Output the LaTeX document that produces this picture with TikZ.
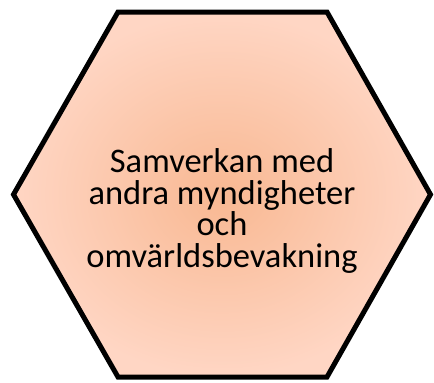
\documentclass[tikz,border=0pt]{standalone}
\usepackage{fontspec}
\setmainfont{Carlito}
\usepackage{xcolor}
\definecolor{hexinner}{RGB}{248, 184, 146}
\definecolor{hexouter}{RGB}{255, 214, 196}
\usepackage{tikz}
\usetikzlibrary{positioning}

\begin{document}
\begin{tikzpicture}[x=1pt, y=-1pt,
        hexbox/.style={draw=black, line width=5pt, line join=miter, inner color=hexinner, outer color=hexouter},
        labeltext/.style={align=center, inner sep=0pt, font=\fontsize{34.5}{31.8}\selectfont}]
        \useasboundingbox (0,0) rectangle (434,383);

        \shade [hexbox] (118,12) -- (327,12) -- (430.5,194.5) -- (327,377) -- (118,377) -- (13.5,194.5) -- cycle;

        \node [labeltext] (samverkan) at (222,211) {Samverkan med\\andra myndigheter\\och\\omvärldsbevakning};
    \end{tikzpicture}
\end{document}
